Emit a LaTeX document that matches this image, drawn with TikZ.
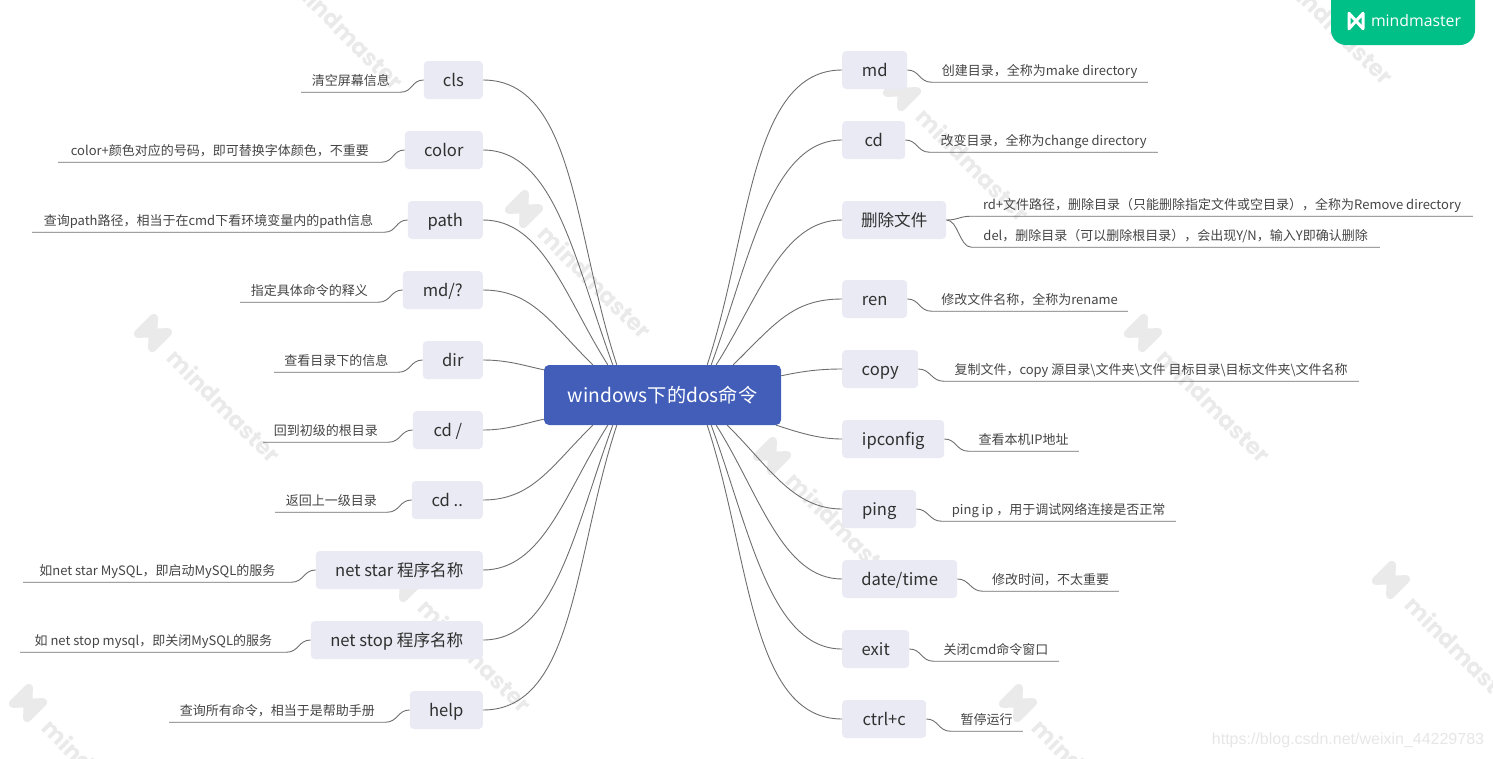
\documentclass[tikz,border=0pt]{standalone}
\usepackage{fontspec}
\usepackage{xcolor}
\usetikzlibrary{positioning, calc}
\setmainfont{Noto Sans CJK SC}
\newfontfamily\brandfont{Open Sans}
\newfontfamily\stampfont{Poppins}
\newfontfamily\urlfont{Liberation Sans}
\definecolor{rootblue}{HTML}{425EB9}
\definecolor{topicbg}{HTML}{E9EAF3}
\definecolor{linkgrey}{HTML}{6E6E6E}
\definecolor{inkdark}{HTML}{303030}
\definecolor{inkleaf}{HTML}{444444}
\definecolor{stampgrey}{HTML}{EAEAEA}
\definecolor{brandgreen}{HTML}{00C088}
\definecolor{urlgrey}{HTML}{E6E6E6}

\tikzset{
    mmlogo/.pic={
        \path[line join=round, pic actions] (-10,-11) -- (-10,11) -- (10,-11) -- (10,11) -- cycle;
    },
    stamp/.pic={
        \pic[draw=stampgrey, line width=8.5pt, rotate=-45] {mmlogo};
        \node[stamptext] (text) at (71,73) {mindmaster};
    }
}

\begin{document}
\begin{tikzpicture}[
    x=1pt, y=-1pt,
    stamptext/.style={font=\stampfont\bfseries\fontsize{23}{28}\selectfont,
                      text=stampgrey, rotate=-45, inner sep=0pt},
    root/.style={rectangle, rounded corners=5pt, fill=rootblue, text=white,
                 font=\fontsize{19.2}{24}\selectfont, minimum width=237pt,
                 minimum height=60pt, text height=19pt, text depth=5pt},
    topic/.style={rectangle, rounded corners=4pt, fill=topicbg, text=inkdark,
                  font=\fontsize{16.6}{20}\selectfont, minimum height=38pt,
                  inner xsep=0pt, text height=17pt, text depth=4pt},
    topicl/.style={topic, anchor=east},
    topicr/.style={topic, anchor=west},
    leaf/.style={rectangle, text=inkleaf, font=\fontsize{13}{16}\selectfont,
                 minimum height=24pt, inner xsep=0pt, inner ysep=0pt,
                 text height=14pt, text depth=3pt},
    link/.style={draw=linkgrey, line width=0.9pt}
]
\useasboundingbox (0,0) rectangle (1493,758);
\clip (0,0) rectangle (1493,758);

% faint marks behind the map
\pic (wmA) at (153,333) {stamp};
\pic (wmB) at (524,209) {stamp};
\pic (wmC) at (902,92) {stamp};
\pic (wmD) at (1143,333) {stamp};
\pic (wmE) at (772,456) {stamp};
\pic (wmF) at (404,583) {stamp};
\pic (wmG) at (1391,580) {stamp};
\pic (wmH) at (1018,703) {stamp};
\pic (wmI) at (28,703) {stamp};
\pic (wmJ) at (276,-40) {stamp};
\pic (wmK) at (1266,-45) {stamp};

\node[rectangle, rounded corners=15pt, fill=brandgreen, minimum width=144pt,
      minimum height=70pt] (brand) at (1403,10) {};
\pic[draw=white, line width=3pt, scale=0.7] (brandlogo) at (1356,21) {mmlogo};
\node[font=\brandfont\fontsize{15.8}{20}\selectfont, text=white, inner sep=0pt]
     (brandname) at (1416,21) {mindmaster};
\node[font=\urlfont\fontsize{16}{18}\selectfont, text=urlgrey, inner sep=0pt]
     (url) at (1348,740) {https://blog.csdn.net/weixin\_44229783};

\node[root] (root) at (662.5,395) {windows下的dos命令};

% left side
\node[topicl, minimum width=59pt] (cls) at (483,80) {cls};
\node[topicl, minimum width=78pt] (color) at (483,150) {color};
\node[topicl, minimum width=75pt] (path) at (483,220) {path};
\node[topicl, minimum width=80pt] (mdask) at (483,290) {md/?};
\node[topicl, minimum width=60pt] (dir) at (483,360) {dir};
\node[topicl, minimum width=70pt] (cdroot) at (483,430) {cd /};
\node[topicl, minimum width=71pt] (cdup) at (483,500) {cd ..};
\node[topicl, minimum width=167pt] (netstar) at (483,570) {net star 程序名称};
\node[topicl, minimum width=172pt] (netstop) at (483,640) {net stop 程序名称};
\node[topicl, minimum width=73pt] (help) at (483,710) {help};

\node[leaf, left=23pt of cls, minimum width=99pt] (clsnote) {清空屏幕信息};
\node[leaf, left=23pt of color, minimum width=323pt] (colornote) {color+颜色对应的号码，即可替换字体颜色，不重要};
\node[leaf, left=23pt of path, minimum width=352pt] (pathnote) {查询path路径，相当于在cmd下看环境变量内的path信息};
\node[leaf, left=24pt of mdask, minimum width=138pt] (mdasknote) {指定具体命令的释义};
\node[leaf, left=24pt of dir, minimum width=124pt] (dirnote) {查看目录下的信息};
\node[leaf, left=24pt of cdroot, minimum width=125pt] (cdrootnote) {回到初级的根目录};
\node[leaf, left=24pt of cdup, minimum width=112pt] (cdupnote) {返回上一级目录};
\node[leaf, left=24pt of netstar, minimum width=268pt] (netstarnote) {如net star MySQL，即启动MySQL的服务};
\node[leaf, left=24pt of netstop, minimum width=266pt] (netstopnote) {如 net stop mysql，即关闭MySQL的服务};
\node[leaf, left=24pt of help, minimum width=216pt] (helpnote) {查询所有命令，相当于是帮助手册};

% right side
\node[topicr, minimum width=65pt] (md) at (842,70) {md};
\node[topicr, minimum width=63pt] (cd) at (842,140) {cd};
\node[topicr, minimum width=104pt] (del) at (842,220) {删除文件};
\node[topicr, minimum width=65pt] (ren) at (842,299) {ren};
\node[topicr, minimum width=76pt] (copy) at (842,369) {copy};
\node[topicr, minimum width=102pt] (ipconfig) at (842,439) {ipconfig};
\node[topicr, minimum width=74pt] (ping) at (842,509) {ping};
\node[topicr, minimum width=115pt] (datetime) at (842,579) {date/time};
\node[topicr, minimum width=67pt] (exit) at (842,649) {exit};
\node[topicr, minimum width=84pt] (ctrlc) at (842,719) {ctrl+c};

\node[leaf, right=24pt of md, minimum width=216pt] (mdnote) {创建目录，全称为make directory};
\node[leaf, right=24pt of cd, minimum width=228pt] (cdnote) {改变目录，全称为change directory};
\node[leaf, right=25pt of del, yshift=16pt, minimum width=501pt] (delnotea) {rd+文件路径，删除目录（只能删除指定文件或空目录），全称为Remove directory};
\node[leaf, right=25pt of del, yshift=-15pt, minimum width=408pt] (delnoteb) {del，删除目录（可以删除根目录），会出现Y/N，输入Y即确认删除};
\node[leaf, right=24pt of ren, minimum width=196pt] (rennote) {修改文件名称，全称为rename};
\node[leaf, right=25pt of copy, minimum width=415pt] (copynote) {复制文件，copy 源目录\textbackslash 文件夹\textbackslash 文件 目标目录\textbackslash 目标文件夹\textbackslash 文件名称};
\node[leaf, right=24pt of ipconfig, minimum width=110pt] (ipconfignote) {查看本机IP地址};
\node[leaf, right=25pt of ping, minimum width=234pt] (pingnote) {ping ip ，用于调试网络连接是否正常};
\node[leaf, right=25pt of datetime, minimum width=136pt] (datetimenote) {修改时间，不太重要};
\node[leaf, right=24pt of exit, minimum width=125pt] (exitnote) {关闭cmd命令窗口};
\node[leaf, right=24pt of ctrlc, minimum width=72pt] (ctrlcnote) {暂停运行};

% root to left topics
\draw[link] (cls.east) .. controls +(92,0) and +(-43,-130) .. ($(root.north west)+(73,0)$);
\draw[link] (color.east) .. controls +(72,0) and +(-38,-103) .. ($(root.north west)+(69,0)$);
\draw[link] (path.east) .. controls +(60,0) and +(-43,-68) .. ($(root.north west)+(64,0)$);
\draw[link] (mdask.east) .. controls +(50,0) and +(-41,-40) .. ($(root.north west)+(49,0)$);
\draw[link] (dir.east) .. controls +(25,0) and +(-19,-4) .. ($(root.north west)+(0,5)$);
\draw[link] (cdroot.east) .. controls +(25,0) and +(-19,4) .. ($(root.south west)+(0,-6)$);
\draw[link] (cdup.east) .. controls +(50,0) and +(-41,40) .. ($(root.south west)+(49,0)$);
\draw[link] (netstar.east) .. controls +(60,0) and +(-43,68) .. ($(root.south west)+(64,0)$);
\draw[link] (netstop.east) .. controls +(72,0) and +(-38,103) .. ($(root.south west)+(69,0)$);
\draw[link] (help.east) .. controls +(92,0) and +(-43,130) .. ($(root.south west)+(73,0)$);

% root to right topics
\draw[link] (md.west) .. controls +(-92,0) and +(43,-130) .. ($(root.north east)+(-74,0)$);
\draw[link] (cd.west) .. controls +(-72,0) and +(38,-103) .. ($(root.north east)+(-70,0)$);
\draw[link] (del.west) .. controls +(-60,0) and +(43,-68) .. ($(root.north east)+(-65,0)$);
\draw[link] (ren.west) .. controls +(-50,0) and +(41,-40) .. ($(root.north east)+(-48,0)$);
\draw[link] (copy.west) .. controls +(-25,0) and +(19,-4) .. ($(root.north east)+(0,11)$);
\draw[link] (ipconfig.west) .. controls +(-25,0) and +(19,6) .. ($(root.south east)+(-5,0)$);
\draw[link] (ping.west) .. controls +(-50,0) and +(41,40) .. ($(root.south east)+(-54,0)$);
\draw[link] (datetime.west) .. controls +(-60,0) and +(43,68) .. ($(root.south east)+(-65,0)$);
\draw[link] (exit.west) .. controls +(-72,0) and +(38,103) .. ($(root.south east)+(-70,0)$);
\draw[link] (ctrlc.west) .. controls +(-92,0) and +(43,130) .. ($(root.south east)+(-74,0)$);

% topic to its note and underline
\draw[link] (cls.west) .. controls +(-12,0) and +(12,0) .. (clsnote.south east) -- (clsnote.south west);
\draw[link] (color.west) .. controls +(-12,0) and +(12,0) .. (colornote.south east) -- (colornote.south west);
\draw[link] (path.west) .. controls +(-12,0) and +(12,0) .. (pathnote.south east) -- (pathnote.south west);
\draw[link] (mdask.west) .. controls +(-12,0) and +(12,0) .. (mdasknote.south east) -- (mdasknote.south west);
\draw[link] (dir.west) .. controls +(-12,0) and +(12,0) .. (dirnote.south east) -- (dirnote.south west);
\draw[link] (cdroot.west) .. controls +(-12,0) and +(12,0) .. (cdrootnote.south east) -- (cdrootnote.south west);
\draw[link] (cdup.west) .. controls +(-12,0) and +(12,0) .. (cdupnote.south east) -- (cdupnote.south west);
\draw[link] (netstar.west) .. controls +(-12,0) and +(12,0) .. (netstarnote.south east) -- (netstarnote.south west);
\draw[link] (netstop.west) .. controls +(-12,0) and +(12,0) .. (netstopnote.south east) -- (netstopnote.south west);
\draw[link] (help.west) .. controls +(-12,0) and +(12,0) .. (helpnote.south east) -- (helpnote.south west);

\draw[link] (md.east) .. controls +(12,0) and +(-12,0) .. (mdnote.south west) -- (mdnote.south east);
\draw[link] (cd.east) .. controls +(12,0) and +(-12,0) .. (cdnote.south west) -- (cdnote.south east);
\draw[link] (del.east) .. controls +(12,0) and +(-12,0) .. (delnotea.south west) -- (delnotea.south east);
\draw[link] (del.east) .. controls +(12,0) and +(-12,0) .. (delnoteb.south west) -- (delnoteb.south east);
\draw[link] (ren.east) .. controls +(12,0) and +(-12,0) .. (rennote.south west) -- (rennote.south east);
\draw[link] (copy.east) .. controls +(12,0) and +(-12,0) .. (copynote.south west) -- (copynote.south east);
\draw[link] (ipconfig.east) .. controls +(12,0) and +(-12,0) .. (ipconfignote.south west) -- (ipconfignote.south east);
\draw[link] (ping.east) .. controls +(12,0) and +(-12,0) .. (pingnote.south west) -- (pingnote.south east);
\draw[link] (datetime.east) .. controls +(12,0) and +(-12,0) .. (datetimenote.south west) -- (datetimenote.south east);
\draw[link] (exit.east) .. controls +(12,0) and +(-12,0) .. (exitnote.south west) -- (exitnote.south east);
\draw[link] (ctrlc.east) .. controls +(12,0) and +(-12,0) .. (ctrlcnote.south west) -- (ctrlcnote.south east);

\end{tikzpicture}
\end{document}
